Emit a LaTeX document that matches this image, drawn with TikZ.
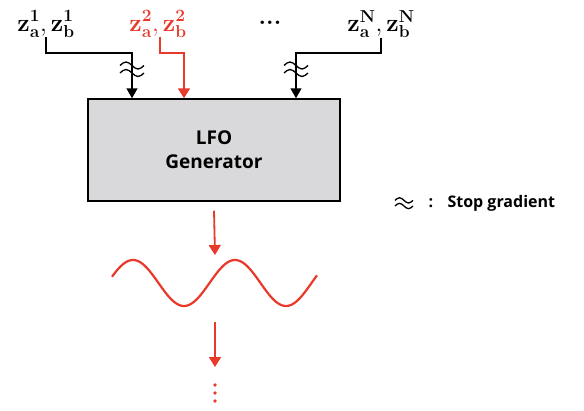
\documentclass[tikz,border=0pt]{standalone}
\usepackage[no-math]{fontspec}
\setsansfont{Open Sans}
\usetikzlibrary{arrows.meta}
\definecolor{lfored}{HTML}{E8392B}
\definecolor{boxgray}{HTML}{D9D9DB}

\begin{document}
\begin{tikzpicture}[x=1pt,y=-1pt,
    zlabel/.style={inner sep=0pt,font=\fontsize{24}{26}\selectfont},
    blkarrow/.style={draw=black,line width=1.5pt,-{Triangle[length=10pt,width=11pt]}},
    redarrow/.style={draw=lfored,line width=1.8pt,-{Triangle[length=10pt,width=12pt]}},
    stopgrad/.pic={
        \draw[line width=1.3pt] (-12,-3.5) sin (-6,-7) cos (0,-3.5) sin (6,0) cos (12,-3.5);
        \draw[line width=1.3pt] (-12,4) sin (-6,0.5) cos (0,4) sin (6,7.5) cos (12,4);
    }]
    % \draw[help lines,step=10] (0,0) grid (584,410);
    \useasboundingbox (0,0) rectangle (584,410);

    % inputs
    \node[zlabel] (z1) at (46,24) {$\mathbf{z}_{\mathbf{a}}^{\mathbf{1}},\mathbf{z}_{\mathbf{b}}^{\mathbf{1}}$};
    \node[zlabel,text=lfored] (z2) at (158,24) {$\mathbf{z}_{\mathbf{a}}^{\mathbf{2}},\mathbf{z}_{\mathbf{b}}^{\mathbf{2}}$};
    \node[zlabel] (etc) at (270,23) {\bfseries ...};
    \node[zlabel] (zN) at (381,24) {$\mathbf{z}_{\mathbf{a}}^{\mathbf{N}},\mathbf{z}_{\mathbf{b}}^{\mathbf{N}}$};

    \node[draw,line width=1.5pt,fill=boxgray,minimum width=252pt,minimum height=102pt,align=center,
          font=\sffamily\bfseries\fontsize{19}{24}\selectfont] (lfo) at (214,150) {LFO\\Generator};

    \draw[blkarrow] (z1.south) |- (132,53) -- (132,0 |- lfo.north);
    \draw[redarrow] ([xshift=2pt]z2.south) |- (184,53) -- (184,0 |- lfo.north);
    \draw[blkarrow] (zN.south) |- (296,53) -- (296,0 |- lfo.north);
    \pic at (132,69) {stopgrad};
    \pic at (296,69) {stopgrad};

    % legend
    \pic[scale=0.75] at (404,203) {stopgrad};
    \node[font=\sffamily\bfseries\fontsize{16}{18}\selectfont,anchor=west] (colon) at (425,203) {:};
    \node[font=\sffamily\bfseries\fontsize{16}{18}\selectfont,anchor=west] (legend) at (444,203) {Stop gradient};

    % output
    \coordinate (wavetop) at (215,255);
    \coordinate (wavebot) at (215,322);
    \coordinate (more) at (215,367);
    \draw[redarrow] ([yshift=-9pt]lfo.south) -- (wavetop);
    \draw[lfored,line width=2.2pt] plot[domain=112:317,samples=120,smooth] (\x,{283-23*sin((\x-107.5)*3.5294)});
    \draw[redarrow] (wavebot) -- (more);
    \foreach \y in {385,393,401}
        \fill[lfored] (215,\y) circle (1.8pt);
\end{tikzpicture}
\end{document}
